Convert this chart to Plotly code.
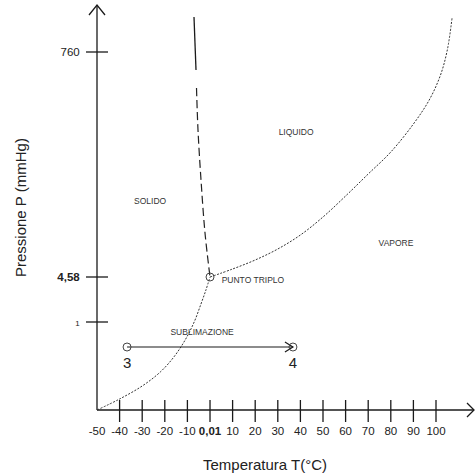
import plotly.graph_objects as go

# ---------------- data (schematic units: T in °C, P in schematic pressure units) ----------------
sub_T = [-50, -40, -30, -22, -16, -11, -7, -4, -1.8, 0.01]
sub_P = [0, 11, 24, 38, 53, 70, 88, 106, 120, 133]

vap_T = [0.01, 10, 20, 30, 40, 50, 60, 70, 80, 90, 97, 102, 105, 107.1]
vap_P = [133, 141, 150, 161, 175, 193, 214, 236, 258, 286, 310, 335, 360, 392]

fus_solid_T = [-7.08, -6.19]
fus_solid_P = [393, 340]
fus_dash_T = [-5.97, -5.31, -3.98, -2.21, 0.01]
fus_dash_P = [322, 280, 230, 177, 133]

triple_T = [0.01]
triple_P = [133]

proc_T = [-36.7, 36.7]
proc_P = [63, 63]
proc_labels = ["3", "4"]

region_labels = ["SOLIDO", "LIQUIDO", "VAPORE", "SUBLIMAZIONE", "PUNTO TRIPLO"]
region_T = [-26.5, 38.1, 82.3, -3.5, 19.0]
region_P = [208, 277, 166, 77, 129]

x_tickvals = [-50, -40, -30, -20, -10, 0.01, 10, 20, 30, 40, 50, 60, 70, 80, 90, 100]
x_ticktext = ["-50", "-40", "-30", "-20", "-10", "<b>0,01</b>", "10", "20", "30", "40",
              "50", "60", "70", "80", "90", "100"]
y_tickvals = [88, 133, 358]
y_ticktext = ['<span style="font-size:8px">1</span>', "<b>4,58</b>", "760"]

# ---------------- layout geometry ----------------
W = H = 475
ORIGIN_PX = (97, 410)
XS = 2.26   # px per °C
YS = 1.0    # px per schematic unit
x_min = -50
y_min = 0
x_range = [x_min - ORIGIN_PX[0] / XS, x_min + (W - ORIGIN_PX[0]) / XS]
y_range = [y_min - (H - ORIGIN_PX[1]) / YS, y_min + ORIGIN_PX[1] / YS]
x_axis_end = x_min + (W - 1 - ORIGIN_PX[0]) / XS
y_axis_end = y_min + (ORIGIN_PX[1] - 5) / YS

INK = "#1a1a1a"
FONT = "Liberation Sans, Arial, sans-serif"

fig = go.Figure()

# axes lines
fig.add_trace(go.Scatter(x=[x_min, x_axis_end], y=[y_min, y_min], mode="lines",
                         line=dict(color=INK, width=1.3), hoverinfo="skip"))
fig.add_trace(go.Scatter(x=[x_min, x_min], y=[y_min, y_axis_end], mode="lines",
                         line=dict(color=INK, width=1.3), hoverinfo="skip"))
# arrow chevrons
ah = 7
fig.add_trace(go.Scatter(
    x=[x_axis_end - ah / XS, x_axis_end, x_axis_end - ah / XS],
    y=[y_min + ah / YS, y_min, y_min - ah / YS], mode="lines",
    line=dict(color=INK, width=1.3), hoverinfo="skip"))
fig.add_trace(go.Scatter(
    x=[x_min - 8 / XS, x_min, x_min + 8 / XS],
    y=[y_axis_end - 10 / YS, y_axis_end, y_axis_end - 10 / YS], mode="lines",
    line=dict(color=INK, width=1.3), hoverinfo="skip"))

# tick marks crossing the axes
tx, ty = [], []
for v in x_tickvals:
    if v == x_min:
        continue
    tx += [v, v, None]
    ty += [y_min + 10 / YS, y_min - 12 / YS, None]
fig.add_trace(go.Scatter(x=tx, y=ty, mode="lines", line=dict(color=INK, width=1.3),
                         hoverinfo="skip"))
tx, ty = [], []
for v in y_tickvals:
    tx += [x_min - 11 / XS, x_min + 11 / XS, None]
    ty += [v, v, None]
fig.add_trace(go.Scatter(x=tx, y=ty, mode="lines", line=dict(color=INK, width=1.3),
                         hoverinfo="skip"))

# phase curves
fig.add_trace(go.Scatter(x=sub_T, y=sub_P, mode="lines", line_shape="spline",
                         line=dict(color="#333", width=1, dash="2px,1.5px")))
fig.add_trace(go.Scatter(x=vap_T, y=vap_P, mode="lines", line_shape="spline",
                         line=dict(color="#333", width=1, dash="2px,1.5px")))
fig.add_trace(go.Scatter(x=fus_solid_T, y=fus_solid_P, mode="lines",
                         line=dict(color=INK, width=1.3)))
fig.add_trace(go.Scatter(x=fus_dash_T, y=fus_dash_P, mode="lines", line_shape="spline",
                         line=dict(color="#222", width=1.2, dash="8px,4px")))

# process 3 -> 4
fig.add_trace(go.Scatter(x=proc_T, y=proc_P, mode="lines",
                         line=dict(color=INK, width=1.2)))
ea = 8
fig.add_trace(go.Scatter(
    x=[proc_T[1] - ea / XS, proc_T[1], proc_T[1] - ea / XS],
    y=[proc_P[1] + 5 / YS, proc_P[1], proc_P[1] - 5 / YS], mode="lines",
    line=dict(color=INK, width=1.2)))
fig.add_trace(go.Scatter(x=proc_T, y=proc_P, mode="markers",
                         marker=dict(symbol="circle-open", size=8, color="#444",
                                     line=dict(color="#444", width=1))))
fig.add_trace(go.Scatter(x=proc_T, y=[p - 17 / YS for p in proc_P], mode="text",
                         text=proc_labels, textposition="middle center",
                         textfont=dict(family=FONT, size=15, color="#222")))

# triple point
fig.add_trace(go.Scatter(x=triple_T, y=triple_P, mode="markers",
                         marker=dict(symbol="circle-open", size=8, color="#444",
                                     line=dict(color="#444", width=1))))

# region labels
fig.add_trace(go.Scatter(x=region_T, y=region_P, mode="text", text=region_labels,
                         textposition="middle center",
                         textfont=dict(family=FONT, size=8.5, color="#333")))

fig.update_layout(
    width=W, height=H, autosize=False,
    margin=dict(l=0, r=0, t=0, b=0, pad=0),
    paper_bgcolor="white", plot_bgcolor="white",
    showlegend=False,
    xaxis=dict(range=x_range, domain=[0, 1], anchor="free",
               position=(H - ORIGIN_PX[1]) / H, automargin=False,
               showline=False, showgrid=False, zeroline=False,
               tickmode="array", tickvals=x_tickvals, ticktext=x_ticktext,
               ticks="outside", ticklen=10, tickcolor="rgba(0,0,0,0)",
               tickangle=0,
               tickfont=dict(family=FONT, size=11.5, color="#222")),
    yaxis=dict(range=y_range, domain=[0, 1], anchor="free",
               position=ORIGIN_PX[0] / W, automargin=False,
               showline=False, showgrid=False, zeroline=False,
               tickmode="array", tickvals=y_tickvals, ticktext=y_ticktext,
               ticks="outside", ticklen=15, tickcolor="rgba(0,0,0,0)",
               tickfont=dict(family=FONT, size=11.5, color="#222")),
    annotations=[
        dict(text="Temperatura T(°C)", xref="paper", yref="paper",
             x=265 / W, y=1 - 464 / H, xanchor="center", yanchor="middle",
             showarrow=False, font=dict(family=FONT, size=15, color="#222")),
        dict(text="Pressione P (mmHg)", xref="paper", yref="paper",
             x=20 / W, y=1 - 208 / H, xanchor="center", yanchor="middle",
             textangle=-90, showarrow=False,
             font=dict(family=FONT, size=15, color="#222")),
    ],
)

fig.write_html("out.html", config={"displayModeBar": False},
               post_script="document.body.style.margin='0';document.body.style.overflow='hidden';")
